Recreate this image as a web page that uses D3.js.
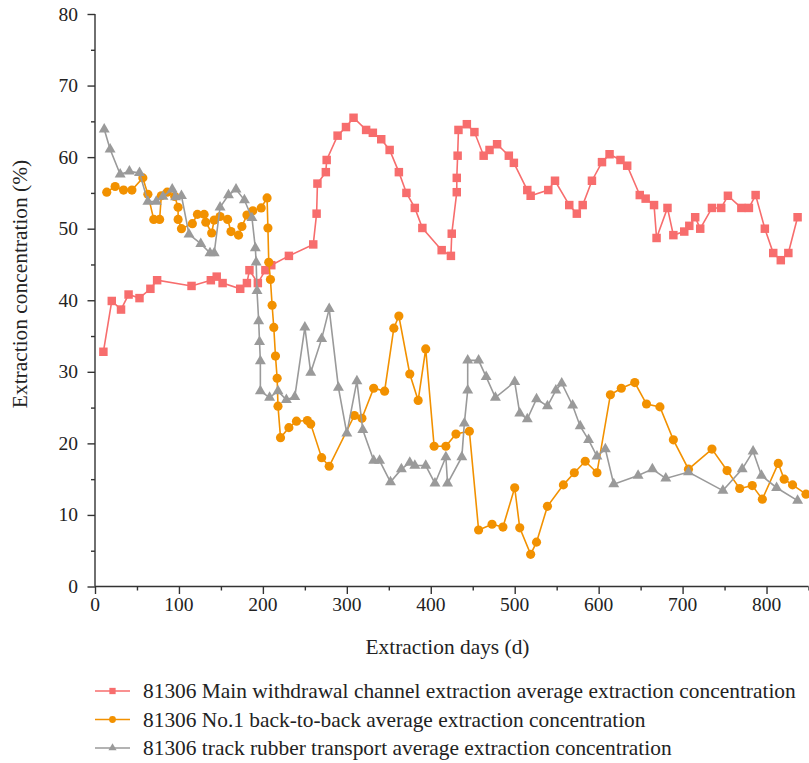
<!DOCTYPE html>
<html>
<head>
<meta charset="utf-8">
<script src="https://cdn.jsdelivr.net/npm/d3@7"></script>
<style>
  html, body { margin: 0; padding: 0; background: #fff; }
  svg { display: block; }
  text { font-family: "Liberation Serif", "DejaVu Serif", serif; fill: #222; }
</style>
</head>
<body>
<svg id="chart" width="809" height="763"></svg>
<script>
// Extraction days and concentration (%) for each roadway
const mainDays = [10,20,31,40,53,66,74,115,138,145,152,173,181,184,194,203,210,231,260,264,265,275,276,289,299,308,323,331,341,351,362,371,381,390,413,424,425,431,431,432,433,443,452,463,470,479,493,499,515,519,540,548,565,574,581,592,604,613,626,634,649,656,666,669,682,689,702,708,715,721,735,746,754,770,779,787,798,808,817,826,837];
const mainConc = [32.8,39.9,38.7,40.8,40.3,41.6,42.8,42.0,42.8,43.3,42.4,41.6,42.4,44.2,42.4,44.2,44.9,46.2,47.8,52.1,56.3,57.9,59.6,63.0,64.2,65.5,63.8,63.4,62.5,61.0,57.9,55.0,52.9,50.1,47.0,46.2,49.3,55.1,57.1,60.2,63.8,64.6,63.5,60.2,61.0,61.8,60.2,59.2,55.4,54.6,55.4,56.7,53.3,52.1,53.3,56.7,59.3,60.4,59.6,58.8,54.7,54.2,53.3,48.7,52.9,49.1,49.6,50.4,51.6,50.0,52.9,52.9,54.6,52.9,52.9,54.7,50.0,46.6,45.6,46.6,51.6];

const backDays = [14,24,34,44,57,63,70,77,79,86,95,99,99,103,116,122,130,132,139,142,149,158,162,171,175,181,188,198,205,206,207,209,211,213,215,217,218,221,231,240,253,257,270,279,309,318,332,345,356,362,375,385,394,404,418,430,446,457,473,486,500,506,519,526,539,558,571,584,598,614,627,643,657,673,689,707,735,753,768,783,795,814,821,831,847];
const backConc = [55.1,55.9,55.4,55.4,57.1,54.8,51.3,51.3,54.6,55.1,54.5,53.0,51.3,50.0,50.7,52.0,52.0,50.9,49.4,51.2,51.7,51.3,49.6,49.1,50.3,51.9,52.5,52.9,54.3,50.1,45.3,42.9,39.3,36.2,32.2,29.1,25.2,20.8,22.2,23.1,23.2,22.7,18.0,16.8,23.9,23.5,27.7,27.3,36.1,37.8,29.7,26.0,33.2,19.6,19.6,21.3,21.7,7.9,8.7,8.3,13.8,8.2,4.5,6.2,11.2,14.2,15.9,17.5,15.9,26.8,27.7,28.5,25.5,25.1,20.5,16.4,19.2,16.2,13.7,14.1,12.2,17.2,15.0,14.2,12.9];

const trackDays = [11,18,30,41,53,63,73,81,92,96,103,112,126,137,142,149,159,168,178,187,191,192,193,195,196,197,197,208,218,228,238,250,257,270,279,290,300,312,319,332,339,352,365,375,381,394,405,418,420,437,440,444,444,457,466,477,500,506,515,526,539,549,556,569,578,588,598,608,618,647,664,680,707,748,771,784,794,812,837];
const trackConc = [63.9,61.1,57.6,58.0,57.8,53.8,53.8,54.5,55.5,54.4,54.6,49.2,47.9,46.6,46.6,53.0,54.7,55.5,54.0,51.5,47.3,45.3,41.3,37.1,34.2,31.5,27.3,26.4,27.3,26.1,26.5,36.2,29.9,34.6,38.8,27.8,21.4,28.7,21.9,17.6,17.6,14.6,16.4,17.3,16.9,16.9,14.4,18.1,14.4,18.1,22.8,27.4,31.6,31.6,29.3,26.4,28.6,24.2,23.4,26.2,25.2,27.4,28.4,25.3,22.4,20.5,18.2,19.2,14.3,15.5,16.4,15.1,16.0,13.4,16.4,18.9,15.5,13.8,12.0];

const seriesNames = [
  "81306 Main withdrawal channel extraction average extraction concentration",
  "81306 No.1 back-to-back average extraction concentration",
  "81306 track rubber transport average extraction concentration"
];
const xTickValues = [0,100,200,300,400,500,600,700,800];
const yTickValues = [0,10,20,30,40,50,60,70,80];
const xTitle = "Extraction days (d)";
const yTitle = "Extraction concentration (%)";

const series = [
  { name: seriesNames[0], days: mainDays,  conc: mainConc,  color: "#f76d6d", symbol: d3.symbolSquare,   size: 72 },
  { name: seriesNames[1], days: backDays,  conc: backConc,  color: "#f29100", symbol: d3.symbolCircle,   size: 66 },
  { name: seriesNames[2], days: trackDays, conc: trackConc, color: "#9a9a9a", symbol: d3.symbolTriangle, size: 52 }
];

const svg = d3.select("#chart");
const margin = { left: 95, right: 0, top: 14, bottom: 177 };
const W = 809, H = 763;

const x = d3.scaleLinear().domain([0, 850]).range([margin.left, W - margin.right - 0.5]);
const y = d3.scaleLinear().domain([0, 80]).range([H - margin.bottom + 0.5, margin.top]);

// axes: major ticks labelled, minor ticks in between
const axisColor = "#333";
const xAxisG = svg.append("g").attr("transform", `translate(0,${y(0)})`);
xAxisG.call(d3.axisBottom(x).tickValues(d3.range(0, 851, 50)).tickSize(4).tickFormat(""));
xAxisG.selectAll(".tick line").filter(d => d % 100 === 0).attr("y2", 7.5);
xAxisG.select(".domain").attr("d", `M${x(0)},0H${x(850)}`);

const yAxisG = svg.append("g").attr("transform", `translate(${x(0)},0)`);
yAxisG.call(d3.axisLeft(y).tickValues(d3.range(0, 81, 5)).tickSize(4).tickFormat(""));
yAxisG.selectAll(".tick line").filter(d => d % 10 === 0).attr("x2", -7.5);
yAxisG.select(".domain").attr("d", `M0,${y(0)}V${y(80)}`);

svg.selectAll(".domain, .tick line").attr("stroke", axisColor).attr("stroke-width", 1.4);

// tick labels
svg.append("g").selectAll("text").data(xTickValues).join("text")
  .attr("x", d => x(d)).attr("y", y(0) + 24)
  .attr("text-anchor", "middle").attr("font-size", 19.5)
  .text(d => d);
svg.append("g").selectAll("text").data(yTickValues).join("text")
  .attr("x", x(0) - 17).attr("y", d => y(d) + 6.5)
  .attr("text-anchor", "end").attr("font-size", 19.5)
  .text(d => d);

// axis titles
svg.append("text").attr("x", 447.5).attr("y", 654)
  .attr("text-anchor", "middle").attr("font-size", 21.4).text(xTitle);
svg.append("text").attr("transform", "translate(27,284) rotate(-90)")
  .attr("text-anchor", "middle").attr("font-size", 21.4).text(yTitle);

// series lines and markers
const line = d3.line().x(d => x(d[0])).y(d => y(d[1]));
series.forEach(s => {
  const pts = s.days.map((d, i) => [d, s.conc[i]]);
  const g = svg.append("g");
  g.append("path").datum(pts).attr("d", line)
    .attr("fill", "none").attr("stroke", s.color).attr("stroke-width", 1.6);
  g.selectAll("path.m").data(pts).join("path").attr("class", "m")
    .attr("transform", d => `translate(${x(d[0])},${y(d[1])})`)
    .attr("d", d3.symbol().type(s.symbol).size(s.size))
    .attr("fill", s.color);
});

// legend
const legend = svg.append("g");
series.forEach((s, i) => {
  const ly = 691 + i * 28.5;
  legend.append("line").attr("x1", 95).attr("x2", 130).attr("y1", ly).attr("y2", ly)
    .attr("stroke", s.color).attr("stroke-width", 1.6);
  legend.append("path").attr("transform", `translate(112.5,${ly})`)
    .attr("d", d3.symbol().type(s.symbol).size(s.size * 0.55)).attr("fill", s.color);
  legend.append("text").attr("x", 143).attr("y", ly + 7).attr("font-size", 21.4).text(s.name);
});
</script>
</body>
</html>
